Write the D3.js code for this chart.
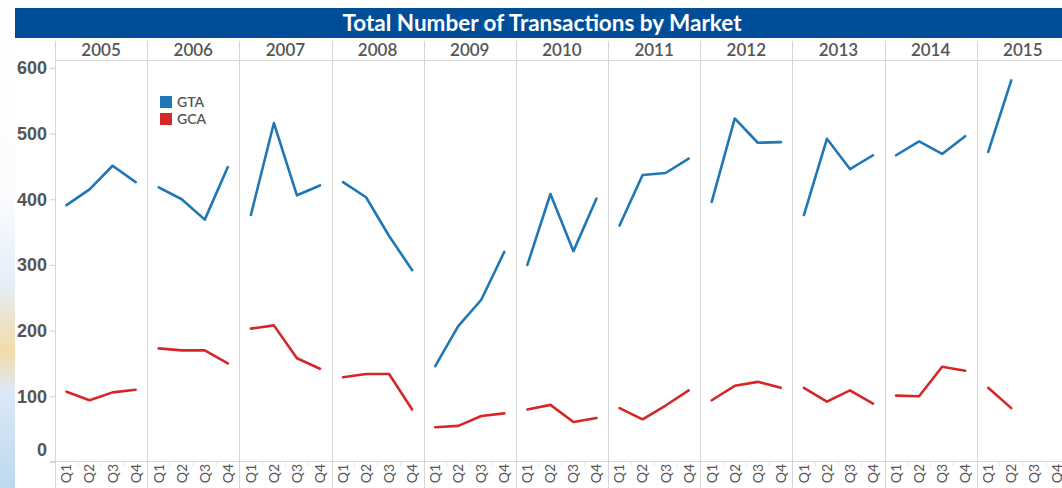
<!DOCTYPE html>
<html lang="en">
<head>
  <meta charset="UTF-8">
  <title>Total Number of Transactions by Market</title>
  <script src="https://d3js.org/d3.v7.min.js"></script>
  <style>
    body { margin: 0; background: #fff; overflow: hidden; }
    svg { display: block; font-family: Lato, "Open Sans", sans-serif; }
    .y-axis text { fill: #555; font-size: 18px; font-weight: 600; }
    .y-axis line { stroke: #cfcfcf; }
    .y-axis path { display: none; }
    .year-label { fill: #555; font-size: 17px; font-weight: 600; }
    .q-label { fill: #555; font-size: 14px; }
    .divider { stroke: #d6d6d6; stroke-width: 1; }
    .series { fill: none; stroke-width: 2.6px; stroke-linejoin: round; stroke-linecap: round; }
    .legend text { fill: #555; font-size: 14px; font-weight: 600; }
  </style>
</head>
<body>
  <div id="chart"></div>

  <script>
    var w = 1062;
    var h = 488;

    var years = ["2005", "2006", "2007", "2008", "2009", "2010", "2011", "2012", "2013", "2014", "2015"];
    var quarters = ["Q1", "Q2", "Q3", "Q4"];
    var yTicks = [0, 100, 200, 300, 400, 500, 600];

    // one row per year, Q1..Q4
    var gtaValues = [
      [391, 415, 451, 426],
      [418, 400, 369, 449],
      [376, 516, 406, 421],
      [426, 403, 344, 292],
      [146, 207, 247, 320],
      [300, 408, 321, 401],
      [360, 437, 440, 462],
      [396, 523, 486, 487],
      [376, 492, 446, 467],
      [467, 488, 469, 496],
      [472, 581]
    ];

    var gcaValues = [
      [107, 94, 106, 110],
      [173, 170, 170, 150],
      [203, 208, 158, 142],
      [129, 134, 134, 80],
      [53, 55, 70, 74],
      [80, 87, 61, 67],
      [82, 65, 86, 109],
      [94, 116, 122, 113],
      [113, 92, 109, 89],
      [101, 100, 145, 139],
      [113, 82]
    ];

    var seriesNames = ["GTA", "GCA"];
    var seriesColors = ["#1f77b4", "#d62728"];

    var svg = d3.select("#chart").append("svg")
        .attr("width", w)
        .attr("height", h);

    // decorative strip at the far left
    var grad = svg.append("defs").append("linearGradient")
        .attr("id", "leftbg")
        .attr("x1", 0).attr("y1", 0).attr("x2", 0).attr("y2", 1);
    grad.selectAll("stop")
      .data([[0, "#ffffff"], [0.4, "#fbfcfe"], [0.58, "#e6eef8"], [0.72, "#f3dba8"], [0.8, "#dce9f6"], [1, "#bdd8ef"]])
      .enter().append("stop")
        .attr("offset", function(d) { return d[0]; })
        .attr("stop-color", function(d) { return d[1]; });

    svg.append("rect")
        .attr("x", 0).attr("y", 0)
        .attr("width", 15).attr("height", h)
        .attr("fill", "url(#leftbg)");

    // title bar
    svg.append("rect")
        .attr("x", 15).attr("y", 8)
        .attr("width", 1054).attr("height", 30)
        .attr("fill", "#004e98");

    svg.append("text")
        .attr("x", 542).attr("y", 23)
        .attr("dy", "0.35em")
        .attr("text-anchor", "middle")
        .attr("fill", "#fff")
        .style("font-size", "22.5px")
        .style("font-weight", "bold")
        .text("Total Number of Transactions by Market");

    var plotLeft = 55;
    var plotTop = 60;
    var plotBottom = 461;
    var colW = 92.17;

    var x = d3.scaleBand()
        .domain(years)
        .range([plotLeft, plotLeft + colW * years.length]);

    var xq = d3.scaleBand()
        .domain(quarters)
        .range([0, x.bandwidth()]);

    var y = d3.scaleLinear()
        .domain([0, 612])
        .range([462, plotTop]);

    // header line and axis line
    svg.append("line").attr("class", "divider")
        .attr("x1", plotLeft).attr("x2", w)
        .attr("y1", plotTop + 0.5).attr("y2", plotTop + 0.5);
    svg.append("line").attr("class", "divider")
        .attr("x1", 50).attr("x2", w)
        .attr("y1", plotBottom + 0.5).attr("y2", plotBottom + 0.5);

    // column dividers
    svg.selectAll(".coldiv")
      .data(years)
      .enter().append("line")
        .attr("class", "divider coldiv")
        .attr("x1", function(d) { return Math.round(x(d)) + 0.5; })
        .attr("x2", function(d) { return Math.round(x(d)) + 0.5; })
        .attr("y1", 41)
        .attr("y2", h);

    // year headers
    svg.selectAll(".year-label")
      .data(years)
      .enter().append("text")
        .attr("class", "year-label")
        .attr("x", function(d) { return x(d) + x.bandwidth() / 2; })
        .attr("y", 50)
        .attr("dy", "0.35em")
        .attr("text-anchor", "middle")
        .text(function(d) { return d; });

    // quarter labels + small ticks between them
    var qCells = [];
    years.forEach(function(yr) {
      quarters.forEach(function(q) { qCells.push({ year: yr, q: q }); });
    });

    svg.selectAll(".q-tick")
      .data(qCells.filter(function(d) { return d.q != "Q1"; }))
      .enter().append("line")
        .attr("class", "q-tick")
        .attr("stroke", "#e3e3e3")
        .attr("x1", function(d) { return x(d.year) + xq(d.q); })
        .attr("x2", function(d) { return x(d.year) + xq(d.q); })
        .attr("y1", plotBottom)
        .attr("y2", plotBottom + 5);

    svg.selectAll(".q-label")
      .data(qCells)
      .enter().append("text")
        .attr("class", "q-label")
        .attr("text-anchor", "end")
        .attr("dy", "0.35em")
        .attr("transform", function(d) {
          var cx = x(d.year) + xq(d.q) + xq.bandwidth() / 2;
          return "translate(" + cx + "," + (plotBottom + 3) + ") rotate(-90)";
        })
        .text(function(d) { return d.q; });

    // y axis
    var yAxis = d3.axisLeft(y)
        .tickValues(yTicks)
        .tickSize(5)
        .tickPadding(3);

    var yG = svg.append("g")
        .attr("class", "y-axis")
        .attr("transform", "translate(" + plotLeft + ",0)")
        .call(yAxis);

    // Tableau pushes the bottom label up inside the pane
    yG.selectAll(".tick")
      .filter(function(d) { return d === 0; })
      .select("text")
        .attr("y", -12);

    // lines, one path per year per series
    var line = d3.line()
        .x(function(d) { return x(d.year) + xq(d.q) + xq.bandwidth() / 2; })
        .y(function(d) { return y(d.v); });

    [gtaValues, gcaValues].forEach(function(vals, si) {
      var segs = vals.map(function(row, i) {
        return row.map(function(v, j) { return { year: years[i], q: quarters[j], v: v }; });
      });
      svg.selectAll(".series-" + si)
        .data(segs)
        .enter().append("path")
          .attr("class", "series series-" + si)
          .attr("stroke", seriesColors[si])
          .attr("d", line);
    });

    // legend
    var legend = svg.append("g")
        .attr("class", "legend")
        .attr("transform", "translate(160,96)");

    var li = legend.selectAll("g")
      .data(seriesNames)
      .enter().append("g")
        .attr("transform", function(d, i) { return "translate(0," + (i * 17) + ")"; });

    li.append("rect")
        .attr("width", 12).attr("height", 12)
        .attr("fill", function(d, i) { return seriesColors[i]; });

    li.append("text")
        .attr("x", 17).attr("y", 6)
        .attr("dy", "0.35em")
        .text(function(d) { return d; });
  </script>
</body>
</html>
